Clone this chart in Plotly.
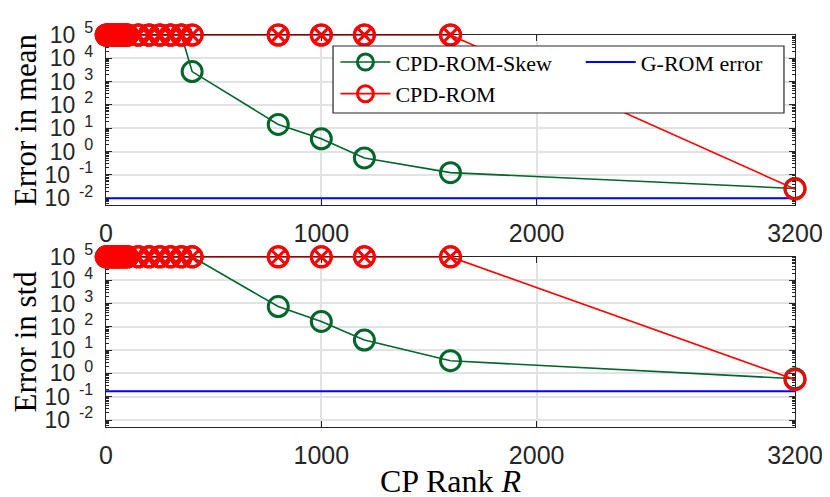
import plotly.graph_objects as go
from plotly.subplots import make_subplots

# CP ranks tested
ranks = [1, 10, 20, 30, 40, 50, 60, 70, 80, 90, 100, 150, 200, 250, 300, 350, 400,
         800, 1000, 1200, 1600, 3200]

# cap value used for diverged runs
cap = 1e5

# error in mean
skew_mean = [cap] * 16 + [2700, 14.5, 3.5, 0.53, 0.124, 0.026]
rom_mean = [cap] * 21 + [0.0245]
grom_mean = 0.01

# error in std
skew_std = [cap] * 17 + [740, 170, 27, 3.5, 0.59]
rom_std = [cap] * 21 + [0.54]
grom_std = 0.17

x_span = [0, 3200]
x_ticks = [0, 1000, 2000, 3200]
y_exps = [-2, -1, 0, 1, 2, 3, 4, 5]

GREEN = '#00662b'
RED = '#ff0000'
BLUE = '#0000ff'
AXC = '#262626'

fig = make_subplots(rows=2, cols=1, vertical_spacing=0.132)

panels = [(1, skew_mean, rom_mean, grom_mean), (2, skew_std, rom_std, grom_std)]
for row, skew, rom, grom in panels:
    first = row == 1
    fig.add_trace(go.Scatter(
        x=x_span, y=[grom] * len(x_span), mode='lines', name='G-ROM error',
        line=dict(color=BLUE, width=2), legend='legend2', showlegend=first,
        cliponaxis=False), row=row, col=1)
    fig.add_trace(go.Scatter(
        x=ranks, y=skew, mode='lines+markers', name='CPD-ROM-Skew',
        line=dict(color=GREEN, width=1.6),
        marker=dict(symbol='circle-open', size=20, color=GREEN, line=dict(width=3)),
        legendrank=1, showlegend=first, cliponaxis=False), row=row, col=1)
    fig.add_trace(go.Scatter(
        x=ranks, y=rom, mode='lines+markers', name='CPD-ROM',
        line=dict(color=RED, width=1.6),
        marker=dict(symbol='circle-open', size=20, color=RED, line=dict(width=3)),
        legendrank=2, showlegend=first, cliponaxis=False), row=row, col=1)
    # crossed markers for capped (diverged) runs
    xr = [r for r, v in zip(ranks, rom) if v >= cap]
    yr = [v for v in rom if v >= cap]
    fig.add_trace(go.Scatter(
        x=xr, y=yr, mode='markers', showlegend=False,
        marker=dict(symbol='circle-x-open', size=20, color=RED, line=dict(width=3)),
        cliponaxis=False), row=row, col=1)

tick_font = dict(family='Liberation Sans, Arial', size=25, color=AXC)
for row in (1, 2):
    fig.update_xaxes(
        range=[0, 3200], tickmode='array', tickvals=x_ticks,
        ticktext=[str(t) for t in x_ticks], tickfont=tick_font,
        ticklabelstandoff=6,
        showline=True, linecolor=AXC, linewidth=1.2, mirror='ticks',
        ticks='inside', ticklen=6, tickcolor=AXC, layer='below traces',
        showgrid=True, gridcolor='#e2e2e2', gridwidth=1.5, zeroline=False,
        automargin=False, row=row, col=1)
    fig.update_yaxes(
        type='log', range=[-2.3, 5], tickmode='array',
        tickvals=[10.0 ** e for e in y_exps],
        ticktext=['10<sup>&nbsp;&nbsp;%d</sup>' % e for e in y_exps],
        tickfont=dict(family='Liberation Sans, Arial', size=23, color=AXC),
        ticklabelstandoff=7,
        showline=True, linecolor=AXC, linewidth=1.2, mirror='ticks',
        ticks='inside', ticklen=6, tickcolor=AXC, layer='below traces',
        minor=dict(ticks='inside', ticklen=3, tickcolor=AXC, dtick='D1', showgrid=False),
        showgrid=True, gridcolor='#e2e2e2', gridwidth=1.5, zeroline=False,
        automargin=False, row=row, col=1)

title_font = dict(family='Liberation Serif, Times New Roman', size=31, color='black')
fig.update_yaxes(title=dict(text='Error in mean', font=title_font, standoff=10), row=1, col=1)
fig.update_yaxes(title=dict(text='Error in std', font=title_font, standoff=10), row=2, col=1)

# x-axis title sits tight under the tick labels
fig.add_annotation(text='CP Rank <i>R</i>', xref='paper', yref='paper', x=0.5, y=0,
                   xanchor='center', yanchor='middle', yshift=-54, showarrow=False,
                   font=dict(title_font, size=32))

legend_font = dict(family='Liberation Serif, Times New Roman', size=22, color='black')

# legend frame (two legend columns sit inside it)
fig.add_shape(type='rect', xref='paper', yref='paper',
              x0=0.3295, x1=0.984, y0=0.801, y1=0.972,
              line=dict(color=AXC, width=1.2), fillcolor='white', layer='above')

# page body adds an 8px offset, so margins are shifted by that amount
fig.update_layout(
    width=830, height=497,
    margin=dict(l=98, r=43, t=27, b=78),
    plot_bgcolor='white', paper_bgcolor='white',
    legend=dict(
        x=0.3330, y=0.984, xanchor='left', yanchor='top', itemwidth=50,
        bgcolor='rgba(0,0,0,0)', borderwidth=0, font=legend_font,
        tracegroupgap=0,
    ),
    legend2=dict(
        x=0.689, y=0.984, xanchor='left', yanchor='top', itemwidth=50,
        bgcolor='rgba(0,0,0,0)', borderwidth=0, font=legend_font,
    ),
)

fig.write_html('out.html')
